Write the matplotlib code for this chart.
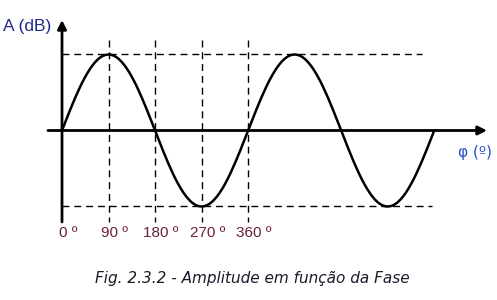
import numpy as np
import matplotlib
matplotlib.use("Agg")
import matplotlib.pyplot as plt

# amplitude for one cycle, every 5 degrees (0..360)
cycle_amp = [0.0, 0.087, 0.174, 0.259, 0.342, 0.423, 0.5, 0.574, 0.643, 0.707,
             0.766, 0.819, 0.866, 0.906, 0.94, 0.966, 0.985, 0.996, 1.0,
             0.996, 0.985, 0.966, 0.94, 0.906, 0.866, 0.819, 0.766, 0.707, 0.643,
             0.574, 0.5, 0.423, 0.342, 0.259, 0.174, 0.087, 0.0,
             -0.087, -0.174, -0.259, -0.342, -0.423, -0.5, -0.574, -0.643, -0.707,
             -0.766, -0.819, -0.866, -0.906, -0.94, -0.966, -0.985, -0.996, -1.0,
             -0.996, -0.985, -0.966, -0.94, -0.906, -0.866, -0.819, -0.766, -0.707,
             -0.643, -0.574, -0.5, -0.423, -0.342, -0.259, -0.174, -0.087, 0.0]
# the figure shows two identical cycles (0..720 degrees)
amplitude = cycle_amp + cycle_amp[1:]
phase_deg = list(range(0, 721, 5))

marked_phases = [90, 180, 270, 360]
tick_labels = ["0 º", "90 º", "180 º", "270 º", "360 º"]
tick_phases = [0, 90, 180, 270, 360]

W, H = 497, 300
fig = plt.figure(figsize=(W / 100, H / 100), dpi=100)
ax = fig.add_axes([0, 0, 1, 1])
ax.set_axis_off()

# pixel mapping: x = 62 + 0.517*deg, y = 130.5 - 76*amp
px_per_deg = 0.517
px_per_amp = 76.0
x0, y0 = 62, 130.5
ax.set_xlim(-x0 / px_per_deg, (W - x0) / px_per_deg)
ax.set_ylim((y0 - H) / px_per_amp, y0 / px_per_amp)


def dx(px):
    return (px - x0) / px_per_deg


def dy(py):
    return (y0 - py) / px_per_amp


dash = dict(color="black", lw=1.0, dashes=(5, 3.5))

# dashed guides
for p in marked_phases:
    ax.plot([p, p], [dy(40), dy(222)], **dash)
ax.plot([0, dx(422)], [1, 1], **dash)
ax.plot([0, dx(432)], [-1, -1], **dash)

# curve
ax.plot(phase_deg, amplitude, color="black", lw=1.8, solid_joinstyle="round")

# axes with arrows
arrow = dict(arrowstyle="-|>", lw=2.0, color="black", mutation_scale=13,
             shrinkA=0, shrinkB=0)
ax.annotate("", xy=(0, dy(20)), xytext=(0, dy(222)), arrowprops=arrow)
ax.annotate("", xy=(dx(487), 0), xytext=(dx(48), 0), arrowprops=arrow)

# tick labels
for p, lab in zip(tick_phases, tick_labels):
    ax.text(p + 6 / px_per_deg, dy(233), lab, ha="center", va="center",
            fontsize=11, color="#6a1f3a", family="Liberation Sans")

fig.text(27 / W, 1 - 27 / H, "A (dB)", ha="center", va="center",
         fontsize=12.5, color="#1f2a8a", family="Liberation Sans")
fig.text(475 / W, 1 - 152 / H, "φ (º)", ha="center", va="center",
         fontsize=11, color="#2450c0", family="DejaVu Sans")
fig.text(252.5 / W, 1 - 278 / H, "Fig. 2.3.2 - Amplitude em função da Fase",
         ha="center", va="center", fontsize=11, style="italic",
         color="#1a1a2a", family="DejaVu Sans")

fig.savefig("out.png", dpi=100)
